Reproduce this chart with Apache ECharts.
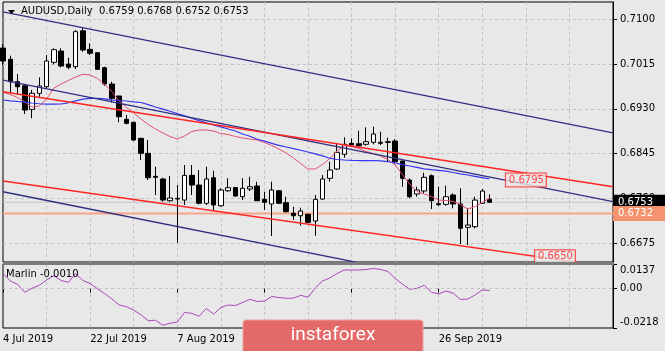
<!DOCTYPE html>
<html><head><meta charset="utf-8">
<script src="https://cdn.jsdelivr.net/npm/echarts@6/dist/echarts.min.js"></script>
<style>html,body{margin:0;padding:0;background:#e8e8e8;}#c{width:665px;height:351px;}</style>
</head><body><div id="c"></div><script>
const categories = [
 '4 Jul 2019','5 Jul 2019','8 Jul 2019','9 Jul 2019','10 Jul 2019','11 Jul 2019','12 Jul 2019','15 Jul 2019','16 Jul 2019','17 Jul 2019','18 Jul 2019','19 Jul 2019',
 '22 Jul 2019','23 Jul 2019','24 Jul 2019','25 Jul 2019','26 Jul 2019','29 Jul 2019','30 Jul 2019','31 Jul 2019','1 Aug 2019','2 Aug 2019','5 Aug 2019','6 Aug 2019',
 '7 Aug 2019','8 Aug 2019','9 Aug 2019','12 Aug 2019','13 Aug 2019','14 Aug 2019','15 Aug 2019','16 Aug 2019','19 Aug 2019','20 Aug 2019','21 Aug 2019','22 Aug 2019',
 '23 Aug 2019','26 Aug 2019','27 Aug 2019','28 Aug 2019','29 Aug 2019','30 Aug 2019','2 Sep 2019','3 Sep 2019','4 Sep 2019','5 Sep 2019','6 Sep 2019','9 Sep 2019',
 '10 Sep 2019','11 Sep 2019','12 Sep 2019','13 Sep 2019','16 Sep 2019','17 Sep 2019','18 Sep 2019','19 Sep 2019','20 Sep 2019','23 Sep 2019','24 Sep 2019','25 Sep 2019',
 '26 Sep 2019','27 Sep 2019','30 Sep 2019','1 Oct 2019','2 Oct 2019','3 Oct 2019','4 Oct 2019','7 Oct 2019',
 '8 Oct 2019','9 Oct 2019','10 Oct 2019','11 Oct 2019','14 Oct 2019','15 Oct 2019','16 Oct 2019','17 Oct 2019','18 Oct 2019','21 Oct 2019','22 Oct 2019','23 Oct 2019',
 '24 Oct 2019','25 Oct 2019','28 Oct 2019','29 Oct 2019','30 Oct 2019'
];
const opens  = [0.70451,0.70237,0.69813,0.69737,0.6929,0.69593,0.69718,0.7018,0.70394,0.70148,0.70097,0.70778,0.70426,0.70362,0.70078,0.69769,0.69542,0.69101,0.69044,0.68741,0.68457,0.68022,0.67971,0.6756,0.67605,0.67573,0.68041,0.67857,0.67511,0.67995,0.67465,0.67749,0.6781,0.67636,0.67782,0.67838,0.67587,0.67498,0.67749,0.67522,0.67322,0.67276,0.67303,0.67176,0.67592,0.67984,0.6816,0.68439,0.68647,0.68639,0.68628,0.68666,0.68666,0.68677,0.6869,0.68312,0.67952,0.67687,0.67744,0.68033,0.67503,0.67492,0.67668,0.67498,0.67056,0.67068,0.67511,0.6759];
const highs  = [0.70527,0.70305,0.69959,0.6975,0.69656,0.69896,0.70318,0.70445,0.70445,0.70267,0.70792,0.70835,0.7054,0.7037,0.70097,0.69813,0.69548,0.69183,0.69056,0.68753,0.68709,0.68204,0.67995,0.68028,0.67857,0.68236,0.68236,0.68141,0.68204,0.68128,0.67795,0.67984,0.6782,0.67984,0.68014,0.6792,0.6773,0.6792,0.67763,0.67636,0.67447,0.67428,0.67314,0.67668,0.68047,0.68298,0.68647,0.6876,0.68741,0.68885,0.6895,0.68961,0.68866,0.68753,0.68728,0.68317,0.67984,0.67825,0.6809,0.6806,0.67825,0.67844,0.677,0.67795,0.67416,0.67636,0.67782,0.6768];
const lows   = [0.70129,0.69593,0.69561,0.69201,0.6912,0.69529,0.69688,0.70142,0.70086,0.70048,0.70053,0.70381,0.70318,0.70034,0.69737,0.69423,0.69044,0.69006,0.6869,0.68331,0.67952,0.67668,0.67541,0.67541,0.66765,0.67479,0.67668,0.67492,0.67479,0.67384,0.67447,0.6773,0.67636,0.67573,0.67744,0.67554,0.67384,0.66892,0.67498,0.6734,0.67195,0.67087,0.67132,0.66897,0.67573,0.6792,0.68141,0.68374,0.68582,0.68582,0.68601,0.68628,0.68615,0.68312,0.68268,0.67825,0.67605,0.67636,0.677,0.67403,0.67465,0.67465,0.67416,0.6674,0.66721,0.67038,0.67498,0.6752];
const closes = [0.70205,0.69813,0.69718,0.69277,0.69593,0.69732,0.70205,0.70419,0.7011,0.70086,0.7076,0.70413,0.70351,0.70048,0.69769,0.69499,0.6915,0.69025,0.68709,0.68457,0.67995,0.68003,0.67573,0.67611,0.67592,0.68041,0.67857,0.67511,0.67971,0.67479,0.67763,0.67806,0.67649,0.67795,0.67825,0.6756,0.6753,0.67763,0.67511,0.67352,0.67276,0.67365,0.67151,0.67587,0.67971,0.68141,0.68476,0.68628,0.68615,0.68601,0.68677,0.68823,0.68647,0.68666,0.68298,0.67984,0.67636,0.67763,0.68003,0.6756,0.67484,0.67636,0.67498,0.67038,0.671,0.67573,0.67744,0.6753];
const maFast = [0.69612,0.69571,0.69514,0.69429,0.69334,0.69353,0.69485,0.69694,0.69769,0.69836,0.69902,0.69953,0.6994,0.69874,0.6976,0.69627,0.69448,0.69325,0.6922,0.69107,0.69003,0.68918,0.68842,0.68776,0.68728,0.68785,0.6887,0.68899,0.68899,0.6888,0.68832,0.68813,0.68776,0.68747,0.68728,0.68709,0.68662,0.68605,0.68539,0.68463,0.68368,0.68264,0.6816,0.6816,0.68245,0.68359,0.68501,0.68599,0.68586,0.68548,0.68492,0.68454,0.68406,0.6834,0.68236,0.68056,0.67876,0.67734,0.67687,0.6764,0.67573,0.67564,0.67545,0.67488,0.67403,0.6745,0.67526,0.67611];
const maSlow = [0.69467,0.69451,0.69438,0.69425,0.6941,0.69396,0.69387,0.69387,0.69391,0.69414,0.69451,0.69482,0.69499,0.69499,0.69489,0.6947,0.69457,0.69448,0.69432,0.69419,0.69378,0.69334,0.69294,0.69253,0.69211,0.69167,0.69122,0.69075,0.69035,0.68997,0.68957,0.68918,0.6888,0.68823,0.68781,0.68724,0.68687,0.68647,0.68607,0.68577,0.68546,0.68516,0.68482,0.68448,0.6841,0.68365,0.6834,0.68331,0.68325,0.68321,0.68321,0.68321,0.68315,0.68302,0.68274,0.68245,0.68217,0.68191,0.68164,0.68147,0.68134,0.6812,0.68094,0.68069,0.68047,0.68022,0.67997,0.67971];
const marlin = [0.00854,0.00427,0.00244,-0.002,0.00022,0.00189,0.00482,0.00721,0.00455,0.00355,0.00843,0.00455,0.00288,0.0,-0.00272,-0.00571,-0.00904,-0.00999,-0.01193,-0.01442,-0.01781,-0.01747,-0.0203,-0.01919,-0.01847,-0.0132,-0.01365,-0.01531,-0.01098,-0.01415,-0.01043,-0.00904,-0.00932,-0.00766,-0.00588,-0.0071,-0.00688,-0.00433,-0.00488,-0.00533,-0.00527,-0.00366,-0.00477,0.00039,0.00427,0.00593,0.00843,0.01037,0.01037,0.01037,0.01065,0.0112,0.01065,0.00954,0.00566,0.00261,-0.00033,0.00022,0.00189,-0.00194,-0.00294,-0.00128,-0.0025,-0.00599,-0.00571,-0.0035,-0.00072,-0.0010];
const priceTicks = [0.6675, 0.6760, 0.6845, 0.6930, 0.7015, 0.7100];
const marlinTicks = [-0.0218, 0, 0.0137];
const bidPrice = 0.6753;
const levelPrice = 0.6732;
const navyUpper = [[0, 0.71133], [84, 0.68846]];
const navyMiddle = [[0, 0.69845], [84, 0.67545]];
const navyLower = [[0, 0.6773], [84, 0.65426]];
const redUpper = [[0, 0.69624], [84, 0.67825]];
const redLower = [[0, 0.67933], [84, 0.66299]];
const levelLabels = [[72, 0.6795], [76, 0.6650]];
const titleText = 'AUDUSD,Daily  0.6759 0.6768 0.6752 0.6753';
const marlinText = 'Marlin -0.0010';

const FONT = 'DejaVu Sans';
const GRIDC = '#c2c2c2';
const LAST = categories.length - 1;
const chart = echarts.init(document.getElementById('c'), null, {renderer: 'canvas'});
const candleData = opens.map((o, i) => [o, closes[i], lows[i], highs[i]]);
const labelIdx = i => i % 12 === 0 && i <= 60;
const splitIdx = i => i % 6 === 0 && i > 0 && i < LAST;
function trend(data, color, width) {
  return {type: 'line', xAxisIndex: 0, yAxisIndex: 0, data: data, symbol: 'none', silent: true, z: 4,
    lineStyle: {color: color, width: width}, clip: true};
}
function hline(price, color, width, boxColor) {
  return {type: 'line', xAxisIndex: 0, yAxisIndex: 0, data: [[0, price], [LAST, price]], symbol: 'none', silent: true, z: 2,
    lineStyle: {color: color, width: width}, clip: false,
    endLabel: {show: true, distance: 0, formatter: () => price.toFixed(4), backgroundColor: boxColor, color: '#fff',
      padding: [3, 12, 2, 5], fontFamily: FONT, fontSize: 10}};
}
chart.setOption({
  animation: false,
  backgroundColor: '#e8e8e8',
  title: {text: titleText, left: 21, top: 6, padding: 0,
    textStyle: {fontFamily: FONT, fontSize: 10, fontWeight: 'normal', color: '#000'}},
  grid: [
    {left: 3, top: 2, width: 610, height: 260, show: true, borderColor: '#000', borderWidth: 1, backgroundColor: 'transparent'},
    {left: 3, top: 264, width: 610, height: 64, show: true, borderColor: '#000', borderWidth: 1, backgroundColor: 'transparent'}
  ],
  xAxis: [
    {type: 'category', gridIndex: 0, data: categories, boundaryGap: false,
      axisLine: {show: false}, axisTick: {show: false}, axisLabel: {show: false},
      splitLine: {show: true, interval: (i) => splitIdx(i), lineStyle: {color: GRIDC, type: [3, 3], width: 1}}},
    {type: 'category', gridIndex: 1, data: categories, boundaryGap: false,
      axisLine: {show: false},
      axisTick: {show: true, interval: (i) => labelIdx(i), length: 4, lineStyle: {color: '#000'}},
      axisLabel: {show: true, interval: (i) => labelIdx(i), align: 'left', margin: 6, fontFamily: FONT, fontSize: 10, color: '#000'},
      splitLine: {show: true, interval: (i) => splitIdx(i), lineStyle: {color: GRIDC, type: [3, 3], width: 1}}}
  ],
  yAxis: [
    {type: 'value', gridIndex: 0, position: 'right', min: 0.664, max: 0.71322, scale: true,
      axisLine: {show: true, lineStyle: {color: '#000'}},
      axisTick: {show: true, length: 4, customValues: priceTicks, lineStyle: {color: '#000'}},
      axisLabel: {customValues: priceTicks, formatter: v => v.toFixed(4), margin: 7, fontFamily: FONT, fontSize: 10, color: '#000'},
      splitLine: {show: true, lineStyle: {color: GRIDC, type: [3, 3], width: 1}}},
    {type: 'value', gridIndex: 1, position: 'right', min: -0.0218, max: 0.0137,
      axisLine: {show: true, lineStyle: {color: '#000'}},
      axisTick: {show: true, length: 4, customValues: marlinTicks, lineStyle: {color: '#000'}},
      axisLabel: {customValues: marlinTicks, margin: 7, fontFamily: FONT, fontSize: 10, color: '#000',
        formatter: v => v === 0 ? '0.00' : (v > 0 ? '{t|' + v.toFixed(4) + '}' : '{b|' + v.toFixed(4) + '}'),
        rich: {t: {padding: [13, 0, 0, 0], fontFamily: FONT, fontSize: 10, color: '#000'},
               b: {padding: [0, 0, 11, 0], fontFamily: FONT, fontSize: 10, color: '#000'}}},
      splitLine: {show: false}}
  ],
  series: [
    hline(bidPrice, '#c6c6c6', 1, '#000000'),
    hline(levelPrice, '#f7a48a', 2, '#f6936f'),
    {type: 'candlestick', xAxisIndex: 0, yAxisIndex: 0, data: candleData, barWidth: 5, z: 3, silent: true,
      itemStyle: {color: '#ffffff', color0: '#000000', borderColor: '#000000', borderColor0: '#000000', borderWidth: 1}},
    {type: 'line', xAxisIndex: 0, yAxisIndex: 0, data: maFast, symbol: 'none', silent: true, z: 4, lineStyle: {color: '#e5506e', width: 1}},
    {type: 'line', xAxisIndex: 0, yAxisIndex: 0, data: maSlow, symbol: 'none', silent: true, z: 4, lineStyle: {color: '#3535f2', width: 1.2}},
    trend(navyUpper, '#2f2f82', 1.3),
    trend(navyMiddle, '#2f2f82', 1.3),
    trend(redUpper, '#ff2424', 1.4),
    trend(navyLower, '#2f2f82', 1.3),
    trend(redLower, '#ff2424', 1.4),
    {type: 'scatter', xAxisIndex: 0, yAxisIndex: 0, data: levelLabels, symbolSize: 2, itemStyle: {color: 'rgba(0,0,0,0)'}, silent: true, z: 6,
      label: {show: true, position: 'inside', formatter: p => p.value[1].toFixed(4), color: '#ff2020', borderColor: '#ff2020', borderWidth: 1,
        padding: [2, 2, 1, 3], fontFamily: FONT, fontSize: 10, backgroundColor: '#e8e8e8'}},
    {type: 'line', xAxisIndex: 1, yAxisIndex: 1, data: marlin, symbol: 'none', silent: true, z: 4, lineStyle: {color: '#a848b8', width: 1},
      markLine: {symbol: 'none', silent: true, label: {show: false}, data: [{yAxis: 0}], lineStyle: {color: GRIDC, type: [3, 3], width: 1}}}
  ],
  graphic: [
    {type: 'polygon', shape: {points: [[8, 10], [15, 10], [11.5, 14]]}, style: {fill: '#000'}, z: 100, silent: true},
    {type: 'rect', shape: {x: 3, y: 262, width: 611, height: 3}, style: {fill: '#7c7c7c'}, z: 100, silent: true},
    {type: 'text', left: 6, top: 269, style: {text: marlinText, fill: '#000', font: '10px "DejaVu Sans"'}, z: 100, silent: true},
    {type: 'rect', shape: {x: 243, y: 320, width: 180, height: 40, r: 3}, style: {fill: '#e46a6a', stroke: '#eea0a0', lineWidth: 1}, z: 100, silent: true},
    {type: 'text', x: 333, y: 335, style: {text: 'instaforex', fill: '#fff', font: '19px Roboto', textAlign: 'center', textVerticalAlign: 'middle'}, z: 101, silent: true}
  ]
});
</script></body></html>
